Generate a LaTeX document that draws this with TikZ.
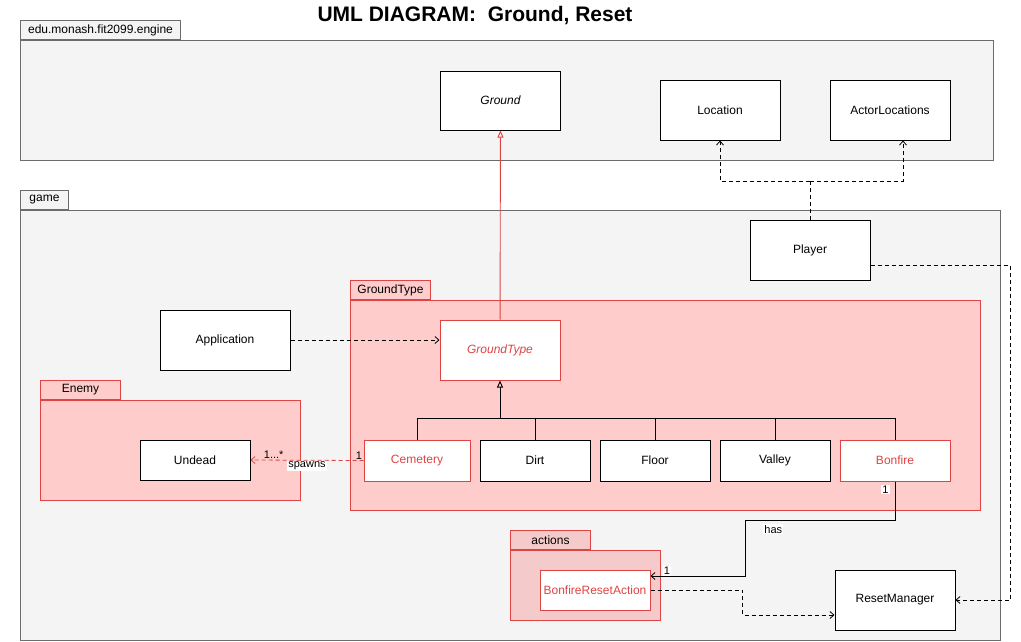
\documentclass[tikz,border=0pt]{standalone}
\usepackage{fontspec}
\setmainfont{Liberation Sans}
\usetikzlibrary{arrows.meta, positioning, calc}
\definecolor{umlred}{RGB}{221,68,68}
\definecolor{pkgpink}{RGB}{255,204,204}
\definecolor{actpink}{RGB}{245,202,202}
\definecolor{pkggray}{RGB}{244,244,244}
\definecolor{pkgline}{RGB}{108,108,108}

\tikzset{
  wh/.style 2 args={minimum width=#1pt, minimum height=#2pt},
  cls/.style={draw, fill=white, line width=1pt, inner sep=0pt, font=\fontsize{12}{14}\selectfont},
  redcls/.style={cls, draw=umlred, text=umlred},
  pkgbody/.style={draw=pkgline, fill=pkggray, line width=1pt, anchor=north west, inner sep=0pt},
  redpkg/.style={pkgbody, draw=umlred, fill=pkgpink},
  pkgtab/.style={anchor=south west, minimum height=19pt, inner sep=0pt, font=\fontsize{12}{14}\selectfont},
  dep/.style={line width=0.8pt, dash pattern=on 4pt off 3pt, -{Straight Barb[length=4pt,width=7pt]}},
  gen/.style={line width=0.9pt, -{Triangle[open,length=7pt,width=6pt]}},
  lbl/.style={inner sep=1pt, font=\fontsize{11}{13}\selectfont},
}

\begin{document}
\begin{tikzpicture}[x=1pt, y=-1pt]
  \useasboundingbox[fill=white] (0,0) rectangle (1021,641);

  \node[font=\bfseries\fontsize{21}{25}\selectfont] (title) at (475,16) {UML DIAGRAM:\ \ Ground, Reset};

  \node[pkgbody, wh={973}{120}] (engine) at (20,40) {};
  \node[pkgtab, pkgbody, anchor=south west, wh={160}{19}] (enginetab) at (engine.north west) {edu.monash.fit2099.engine};

  \node[pkgbody, wh={980}{430}] (game) at (20,210) {};
  \node[pkgtab, pkgbody, anchor=south west, wh={48}{19}] (gametab) at (game.north west) {game};

  \node[redpkg, wh={630}{210}] (gtpkg) at (350,300) {};
  \node[pkgtab, redpkg, anchor=south west, wh={80}{19}] (gtpkgtab) at (gtpkg.north west) {GroundType};

  \node[redpkg, wh={260}{100}] (enemy) at (40,400) {};
  \node[pkgtab, redpkg, anchor=south west, wh={80}{19}] (enemytab) at (enemy.north west) {Enemy};

  \node[redpkg, fill=actpink, wh={150}{70}] (actions) at (510,550) {};
  \node[pkgtab, redpkg, fill=actpink, anchor=south west, wh={80}{19}] (actionstab) at (actions.north west) {actions};

  \node[cls, wh={120}{59}, font=\itshape\fontsize{12}{14}\selectfont] (ground) at (500.5,100.5) {Ground};
  \node[cls, wh={120}{60}] (location) at (720,110) {Location};
  \node[cls, wh={120}{60}] (actorloc) at (890,110) {ActorLocations};
  \node[cls, wh={120}{60}] (player) at (810,250) {Player};
  \node[cls, wh={130}{60}] (application) at (225,340) {Application};
  \node[redcls, wh={120}{60}, font=\itshape\fontsize{12}{14}\selectfont] (groundtype) at (500,350) {GroundType};
  \node[cls, wh={110}{40}] (undead) at (195,460) {Undead};

  \node[redcls, wh={106}{41}] (cemetery) at (417,460.5) {Cemetery};
  \node[cls, wh={110}{41}] (dirt) at (535,460.5) {Dirt};
  \node[cls, wh={110}{41}] (floor) at (655,460.5) {Floor};
  \node[cls, wh={110}{41}] (valley) at (775,460.5) {Valley};
  \node[redcls, wh={110}{41}] (bonfire) at (895,460.5) {Bonfire};

  \node[redcls, wh={110}{40}] (resetaction) at (595,590) {BonfireResetAction};
  \node[cls, wh={120}{60}] (resetmgr) at (895,600) {ResetManager};

  \coordinate (split) at (500,418);
  \coordinate (pfork) at (810,181);
  \coordinate (hasbend) at (745,520);
  \coordinate (rbend) at (1010,600);

  \draw[gen, umlred] (groundtype) -- (ground);

  \foreach \c in {cemetery,dirt,floor,valley,bonfire}
    \draw[line width=0.8pt] (\c.north) -- (\c.north |- split);
  \draw[line width=0.8pt] (cemetery.north |- split) -- (bonfire.north |- split);
  \draw[gen] (split) -- (groundtype.south);

  \draw[dep] (application.east) -- (application.east -| groundtype.west);

  \draw[dep, umlred] (cemetery.west) node[lbl, text=black, above left] {1}
    -- node[lbl, text=black, fill=white, below=0pt] {spawns}
    (undead.east) node[lbl, text=black, above right=0pt and 12pt] {1...*};

  \draw[line width=0.8pt, dash pattern=on 4pt off 3pt] (player.north) -- (pfork);
  \draw[dep] (pfork) -| (location.south);
  \draw[dep] (pfork) -| ([xshift=13pt]actorloc.south);

  \draw[line width=0.8pt, -{Straight Barb[length=4pt,width=7pt]}] (bonfire.south)
    node[lbl, fill=white, below left=3pt and 5pt] {1}
    |- (hasbend) node[lbl, fill=white, below right=4pt and 18pt] {has}
    |- ([yshift=14pt]resetaction.east) node[lbl, fill=white, above right=0pt and 12pt] {1};

  \draw[dep] (resetaction.east) -| ($(resetaction.east)!.5!([yshift=-15pt]resetmgr.west)$)
    |- ([yshift=-15pt]resetmgr.west);

  \draw[dep] ([yshift=-15pt]player.east) -| (rbend) -- (resetmgr.east);
\end{tikzpicture}
\end{document}
